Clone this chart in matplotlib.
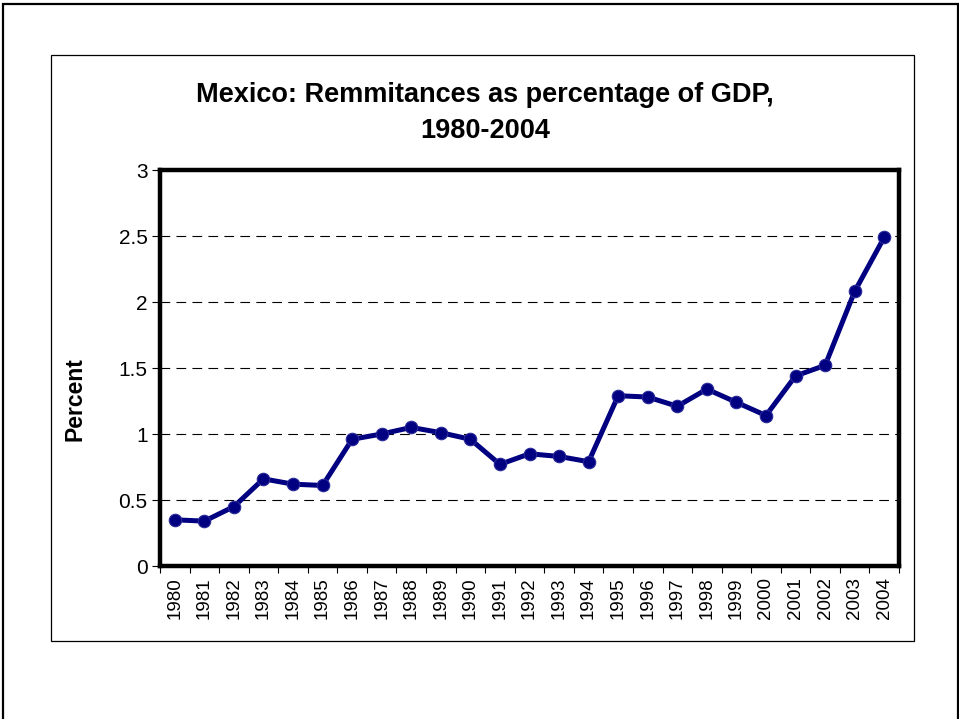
import matplotlib
matplotlib.use("Agg")
import matplotlib.pyplot as plt
from matplotlib.patches import Rectangle

plt.rcParams["font.family"] = ["Liberation Sans", "DejaVu Sans"]
plt.rcParams["lines.scale_dashes"] = False

# Remittances as % of GDP, Mexico
years = [str(y) for y in range(1980, 2005)]
percent = [0.35, 0.34, 0.45, 0.66, 0.62, 0.61, 0.96, 1.00, 1.05, 1.01,
           0.96, 0.77, 0.85, 0.83, 0.79, 1.29, 1.28, 1.21, 1.34, 1.24,
           1.14, 1.44, 1.52, 2.08, 2.49]
y_ticks = [0, 0.5, 1, 1.5, 2, 2.5, 3]
y_tick_labels = ["0", "0.5", "1", "1.5", "2", "2.5", "3"]

W, H = 959, 719
fig = plt.figure(figsize=(W / 100, H / 100), dpi=100)

# slide frame and chart-area frame
fig.add_artist(Rectangle((3 / W, -0.05), 955 / W, 1.05 - 4 / H,
                         transform=fig.transFigure, fill=False,
                         edgecolor="black", linewidth=1.6))
fig.add_artist(Rectangle((51 / W, 1 - 641 / H), 863 / W, 586 / H,
                         transform=fig.transFigure, fill=False,
                         edgecolor="black", linewidth=0.9))

ax = fig.add_axes([160 / W, 1 - 566 / H, 739 / W, 396 / H])
x = list(range(len(years)))

for v in y_ticks[1:-1]:
    ax.axhline(v, color="black", linewidth=0.8, linestyle=(0, (7, 4.5)), zorder=1)

ax.plot(x, percent, color="#000080", linewidth=3.6, marker="o",
        markersize=9, markerfacecolor="#000080",
        markeredgecolor="#2a2a9a", markeredgewidth=0.8, zorder=3)

ax.set_xlim(-0.5, len(years) - 0.5)
ax.set_ylim(0, 3)
ax.set_yticks(y_ticks)
ax.set_yticklabels(y_tick_labels, fontsize=15)
ax.set_xticks(x)
ax.set_xticklabels(years, rotation=90, fontsize=13.5)
ax.set_xticks([i - 0.5 for i in range(len(years) + 1)], minor=True)
ax.tick_params(axis="x", which="major", length=0, pad=8)
ax.tick_params(axis="x", which="minor", length=5, width=0.8, direction="out")
ax.tick_params(axis="y", length=6, width=0.8, direction="out", pad=3)

for s in ax.spines.values():
    s.set_linewidth(3.2)

fig.text(75 / W, 1 - 399 / H, "Percent", rotation=90, fontsize=16.5,
         fontweight="bold", ha="center", va="center")
fig.text(485 / W, 1 - 113 / H, "Mexico: Remmitances as percentage of GDP,\n1980-2004",
         fontsize=19.5, fontweight="bold", ha="center", va="center",
         linespacing=1.45)

fig.savefig("out.png", dpi=100)
